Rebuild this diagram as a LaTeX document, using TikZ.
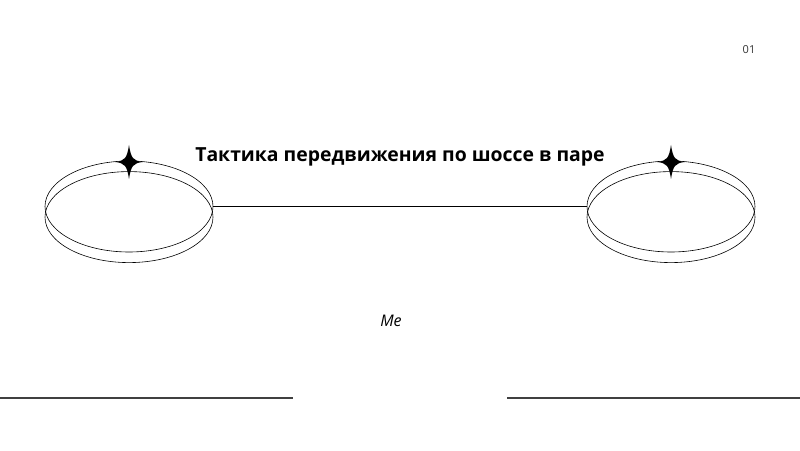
\documentclass[tikz,border=0pt]{standalone}
\usepackage{fontspec}
\setmainfont{Open Sans}
\usepackage{tikz}
\usetikzlibrary{positioning}
\usetikzlibrary{shapes.geometric}

\begin{document}
\begin{tikzpicture}[
x = 1pt, y = 1pt,
  ring/.style = {draw, ellipse, line width = 0.6pt, minimum width = 168pt, minimum height = 91pt, inner sep = 0pt},
  sparkle/.style = {fill = black},
  rule/.style = {draw = black!75, line width = 1.2pt}
]
\useasboundingbox (0,0) rectangle (800,450);
% left pair of rings
\node[ring] (lefttop) at (129,243.5) {};
\node[ring, below = -81pt of lefttop] (leftbottom) {};
% right pair of rings
\node[ring] (righttop) at (671,243.5) {};
\node[ring, below = -81pt of righttop] (rightbottom) {};
% link between the rings
\draw[line width = 0.6pt] (lefttop.east) -- (righttop.west);
% sparkles on top of the rings
\foreach \sx in {129, 671} {
  \begin{scope}[shift = {(\sx,288)}]
    \fill[sparkle] (0,17) .. controls (2,4) and (4,1) .. (14,0) .. controls (4,-1) and (2,-4) .. (0,-17)
      .. controls (-2,-4) and (-4,-1) .. (-14,0) .. controls (-4,1) and (-2,4) .. cycle;
  \end{scope}
}
\node[font = \bfseries\fontsize{19.4}{23}\selectfont] (title) at (400,293) {Тактика передвижения по шоссе в паре};
\node[font = \itshape\fontsize{16}{19}\selectfont] (who) at (391,129) {Me};
\node[font = \fontsize{11}{13}\selectfont, text = black!80] (page) at (749,400) {01};
% bottom rules
\coordinate (ruleA) at (0,52);
\coordinate (ruleB) at (293,52);
\coordinate (ruleC) at (507,52);
\coordinate (ruleD) at (800,52);
\draw[rule] (ruleA) -- (ruleB);
\draw[rule] (ruleC) -- (ruleD);
\end{tikzpicture}
\end{document}
